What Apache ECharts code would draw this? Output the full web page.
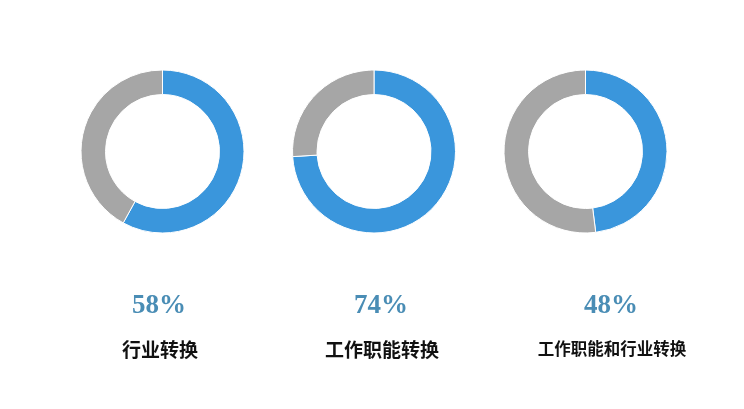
<!DOCTYPE html>
<html>
<head>
<meta charset="utf-8">
<script src="https://cdn.jsdelivr.net/npm/echarts@6/dist/echarts.min.js"></script>
<style>
html,body{margin:0;padding:0;background:#fff;}
#c{width:744px;height:409px;}
</style>
</head>
<body>
<div id="c"></div>
<script>
var categories = ['行业转换', '工作职能转换', '工作职能和行业转换'];
var values = [58, 74, 48];
var percentLabels = ['58%', '74%', '48%'];

var centersX = [162.5, 374, 585.5];
var textX = [159, 381, 611];
var labelSizes = [19, 19, 16.5];
var chart = echarts.init(document.getElementById('c'));
var series = [];
var titles = [];
categories.forEach(function (cat, i) {
  series.push({
    type: 'pie',
    center: [centersX[i], 151.5],
    radius: [57, 81.5],
    startAngle: 90,
    clockwise: true,
    silent: true,
    label: {show: false},
    labelLine: {show: false},
    itemStyle: {borderColor: '#fff', borderWidth: 1},
    data: [
      {value: values[i], name: cat, itemStyle: {color: '#3a96dc'}},
      {value: 100 - values[i], name: '其他', itemStyle: {color: '#a6a6a6'}}
    ]
  });
  titles.push({
    text: percentLabels[i],
    left: textX[i],
    top: 293,
    padding: 0,
    textAlign: 'center',
    textStyle: {fontFamily: 'Liberation Serif, DejaVu Serif, serif', fontWeight: 'bold', fontSize: 27, color: '#4a8db5'}
  });
  titles.push({
    text: cat,
    left: textX[i] + 1,
    top: 340,
    padding: 0,
    textAlign: 'center',
    textStyle: {fontFamily: 'Noto Sans CJK SC, sans-serif', fontWeight: 'bold', fontSize: labelSizes[i], color: '#111'}
  });
});
chart.setOption({
  animation: false,
  backgroundColor: '#fff',
  title: titles,
  series: series
});
</script>
</body>
</html>
